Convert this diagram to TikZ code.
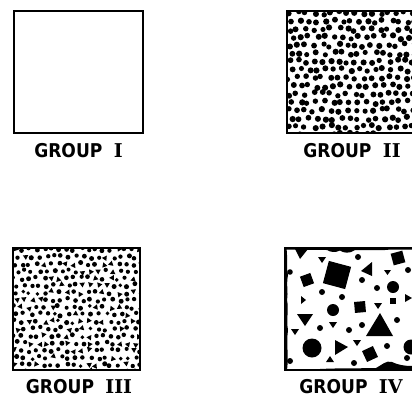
\documentclass[tikz,border=0pt]{standalone}
\usepackage{fontspec}
\setmainfont{DejaVu Sans Condensed}
\newfontfamily\romfont{DejaVu Serif}
\begin{document}
\begin{tikzpicture}[x=1pt,y=-1pt,
  frame/.style={line width=1.6pt},
  lbl/.style={font=\fontsize{19}{19}\selectfont\bfseries, inner sep=0pt, anchor=center}]
\useasboundingbox (0,0) rectangle (412,397);
\pgfmathsetseed{7}
% ---------------- GROUP I
\draw[frame] (14,11) rectangle (143,133);
\node[lbl] (l1) at (78.5,150.5) {GROUP\hspace{0.6em}{\romfont\bfseries I}};
% ---------------- GROUP II
\begin{scope}
\clip (287,11) rectangle (412,133);
\foreach \i in {0,...,15}{
  \foreach \j in {0,...,15}{
    \pgfmathsetmacro\xx{287+2+\i*8.3+rand*2.2+mod(\j,2)*3}
    \pgfmathsetmacro\yy{11+2+\j*8.1+rand*2.0}
    \pgfmathsetmacro\rr{2.85+rand*0.3}
    \fill (\xx,\yy) circle (\rr);
  }
}
\end{scope}
\draw[frame] (412,11) -- (287,11) -- (287,133) -- (412,133);
\node[lbl] (l2) at (352,150.5) {GROUP\hspace{0.6em}{\romfont\bfseries II}};
% ---------------- GROUP III
\begin{scope}
\clip (13,248) rectangle (140,370);
\foreach \i in {0,...,17}{
  \foreach \j in {0,...,17}{
    \pgfmathsetmacro\xx{13+1.5+\i*7.4+rand*1.8+mod(\j,2)*2.5}
    \pgfmathsetmacro\yy{248+1.5+\j*7.2+rand*1.8}
    \pgfmathsetmacro\kk{rnd}
    \pgfmathsetmacro\rot{rnd*120}
    \ifdim\kk pt<0.25pt
      \fill[rotate around={\rot:(\xx,\yy)}] (\xx,\yy-3) -- (\xx+2.7,\yy+1.7) -- (\xx-2.7,\yy+1.7) -- cycle;
    \else
      \pgfmathsetmacro\rr{2.25+rand*0.3}
      \fill (\xx,\yy) circle (\rr);
    \fi
  }
}
\end{scope}
\draw[frame] (13,248) rectangle (140,370);
\node[lbl] (l3) at (79,386.5) {GROUP\hspace{0.6em}{\romfont\bfseries III}};
% ---------------- GROUP IV
\begin{scope}
\clip (285,248) rectangle (412,370);
% border deposits
\fill (285,248) -- (412,248) -- (412,249.5) .. controls (400,250) and (395,249) .. (385,250)
  -- (355,250) .. controls (350,254) and (343,253) .. (340,250.5) .. controls (335,253) and (330,252) .. (327,250)
  -- (285,249.5) -- cycle;
\fill (285,248) -- (286.5,248) .. controls (288,262) and (286,268) .. (288,275) .. controls (286,285) and (288.5,292) .. (287,300)
  .. controls (289,310) and (286,320) .. (288,330) .. controls (286,345) and (289,355) .. (287,370) -- (285,370) -- cycle;
\fill (285,370) -- (412,370) -- (412,366) .. controls (405,366) and (398,365) .. (392,362) .. controls (386,360) and (382,365) .. (376,368)
  .. controls (360,368.5) and (340,368) .. (320,369) -- (285,369) -- cycle;
% shapes
\fill (295,249) -- (308,249) -- (300,259) -- cycle;
\fill (318,257) -- (326,257) -- (322,263) -- cycle;
\fill (358,257) circle (3);
\fill[rotate around={15:(398,258)}] (392,252) rectangle (404,264);
\fill (290,272) circle (2.8);
\fill[rotate around={-15:(337,275)}] (325.5,263.5) rectangle (348.5,286.5);
\fill (372,262) -- (372,276) -- (361,271) -- cycle;
\fill (384,270) -- (391,270) -- (387.5,275) -- cycle;
\fill (408,270) circle (3);
\fill[rotate around={20:(307,280)}] (301.5,274.5) rectangle (312.5,285.5);
\fill (362,280) circle (3);
\fill (322,292) circle (3);
\fill (377,288) circle (3);
\fill (393,287) circle (6);
\fill (342,297) circle (3);
\fill (301,296) -- (306,300) -- (301,304) -- cycle;
\fill (389.5,297.5) rectangle (395.5,303.5);
\fill (405,294) -- (412,298) -- (405,302) -- cycle;
\fill (333,310) circle (6);
\fill[rotate around={5:(360,307)}] (354.5,301.5) rectangle (365.5,312.5);
\fill (374,303) -- (382,303) -- (378,309) -- cycle;
\fill (297,314) -- (313,314) -- (305,326) -- cycle;
\fill (329,322) -- (337,322) -- (333,328) -- cycle;
\fill (320,328) circle (3);
\fill (349,330) circle (3);
\fill (362,325) circle (3);
\fill (380,313) -- (393,336) -- (366,336) -- cycle;
\fill (397,320) circle (3);
\fill (291,329) -- (299,329) -- (295,335) -- cycle;
\fill (312,348) circle (9.5);
\fill (335,340) -- (348,347) -- (335,355) -- cycle;
\fill (353,340) -- (361,340) -- (357,346) -- cycle;
\fill[rotate around={25:(370,354)}] (364,348) rectangle (376,360);
\fill (387,346) circle (3);
\fill (411,347) circle (7.5);
\fill (290,361) circle (3);
\fill (326,362) -- (334,362) -- (330,356) -- cycle;
\fill (354,363) circle (3);
\fill (407,358) circle (3);
\end{scope}
\draw[frame] (412,248) -- (285,248) -- (285,370) -- (412,370);
\node[lbl] (l4) at (351,386.5) {GROUP\hspace{0.6em}{\romfont\bfseries IV}};
\end{tikzpicture}
\end{document}
